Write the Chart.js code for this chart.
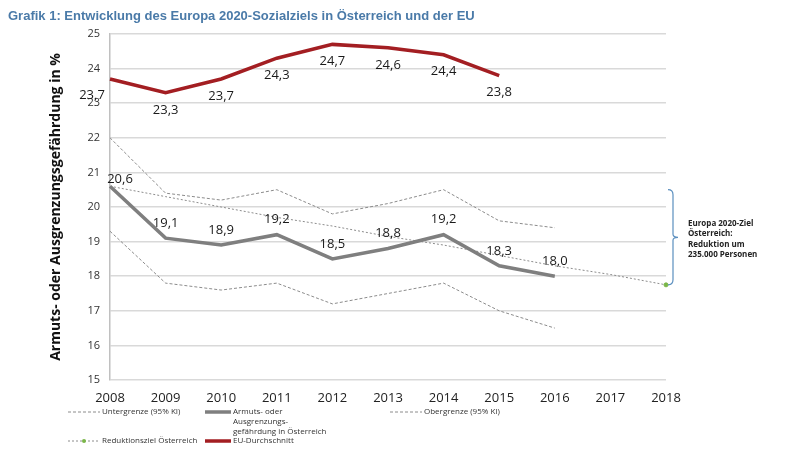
<!DOCTYPE html>
<html>
<head>
<meta charset="utf-8">
<script src="https://cdn.jsdelivr.net/npm/chart.js@4/dist/chart.umd.min.js"></script>
<style>
  html, body { margin: 0; padding: 0; background: #fff; }
  #wrap { width: 800px; height: 450px; position: relative; }
</style>
</head>
<body>
<div id="wrap"><canvas id="chart" width="800" height="450"></canvas></div>
<script>
const years = ['2008', '2009', '2010', '2011', '2012', '2013', '2014', '2015', '2016', '2017', '2018'];
const oesterreich = [20.6, 19.1, 18.9, 19.2, 18.5, 18.8, 19.2, 18.3, 18.0, null, null];
const euSchnitt = [23.7, 23.3, 23.7, 24.3, 24.7, 24.6, 24.4, 23.8, null, null, null];
const obergrenze = [22.0, 20.4, 20.2, 20.5, 19.8, 20.1, 20.5, 19.6, 19.4, null, null];
const untergrenze = [19.3, 17.8, 17.6, 17.8, 17.2, 17.5, 17.8, 17.0, 16.5, null, null];
const reduktionsziel = [20.6, 20.3, 20.0, 19.7, 19.45, 19.15, 18.9, 18.6, 18.3, 18.05, 17.75];
const klammerOben = 20.5;
const klammerUnten = 17.75;
const zielText = ['Europa 2020-Ziel', 'Österreich:', 'Reduktion um', '235.000 Personen'];

const fmt = v => v.toFixed(1).replace('.', ',');
const ctx = document.getElementById('chart').getContext('2d');

const extras = {
    id: 'extras',
    afterDatasetsDraw(chart) {
        const c = chart.ctx;
        const x = chart.scales.x;
        const y = chart.scales.y;
        c.save();

        // value labels
        c.font = '13px "Open Sans", "DejaVu Sans", sans-serif';
        c.fillStyle = '#1a1a1a';
        c.textAlign = 'center';
        c.textBaseline = 'middle';
        oesterreich.forEach((v, i) => {
            if (v === null) return;
            let px = x.getPixelForValue(i);
            let py = y.getPixelForValue(v) - 15;
            if (i === 0) { px += 10; py += 8; }
            c.fillText(fmt(v), px, py);
        });
        euSchnitt.forEach((v, i) => {
            if (v === null) return;
            let px = x.getPixelForValue(i);
            let py = y.getPixelForValue(v) + 17;
            if (i === 0) { px -= 18; py -= 1; }
            c.fillText(fmt(v), px, py);
        });

        // bracket
        const bx = x.getPixelForValue(10) + 7;
        const top = y.getPixelForValue(klammerOben);
        const bot = y.getPixelForValue(klammerUnten);
        const mid = (top + bot) / 2;
        c.strokeStyle = '#5b8fbf';
        c.lineWidth = 1.2;
        c.beginPath();
        c.moveTo(bx - 5, top);
        c.quadraticCurveTo(bx, top, bx, top + 5);
        c.lineTo(bx, mid - 3);
        c.quadraticCurveTo(bx, mid, bx + 5, mid);
        c.quadraticCurveTo(bx, mid, bx, mid + 3);
        c.lineTo(bx, bot - 5);
        c.quadraticCurveTo(bx, bot, bx - 5, bot);
        c.stroke();

        c.font = 'bold 8px "Open Sans", "DejaVu Sans", sans-serif';
        c.fillStyle = '#222';
        c.textAlign = 'left';
        zielText.forEach((t, i) => c.fillText(t, bx + 15, mid - 14 + i * 10.5));

        // title
        c.font = 'bold 13px "Liberation Sans", Arial, sans-serif';
        c.fillStyle = '#4a7aa8';
        c.textAlign = 'left';
        c.fillText('Grafik 1: Entwicklung des Europa 2020-Sozialziels in Österreich und der EU', 8, 16);

        // legend
        const items = [
            { x: 68, y: 412, ds: 2, lines: ['Untergrenze (95% KI)'] },
            { x: 205, y: 412, ds: 0, lines: ['Armuts- oder', 'Ausgrenzungs-', 'gefährdung in Österreich'] },
            { x: 390, y: 412, ds: 3, lines: ['Obergrenze (95% KI)'] },
            { x: 68, y: 441, ds: 4, lines: ['Reduktionsziel Österreich'], marker: true },
            { x: 205, y: 441, ds: 1, lines: ['EU-Durchschnitt'] }
        ];
        c.font = '8px "Open Sans", "DejaVu Sans", sans-serif';
        items.forEach(it => {
            const ds = chart.data.datasets[it.ds];
            const len = ds.borderWidth > 2 ? 26 : 32;
            c.strokeStyle = ds.borderColor;
            c.lineWidth = ds.borderWidth;
            c.setLineDash(ds.borderDash || []);
            c.beginPath();
            c.moveTo(it.x, it.y);
            c.lineTo(it.x + len, it.y);
            c.stroke();
            c.setLineDash([]);
            if (it.marker) {
                c.fillStyle = '#7ab648';
                c.beginPath();
                c.arc(it.x + 16, it.y, 2, 0, Math.PI * 2);
                c.fill();
            }
            c.fillStyle = '#333';
            it.lines.forEach((t, k) => c.fillText(t, it.x + len + 2, it.y + k * 10));
        });
        c.restore();
    }
};

const chart = new Chart(ctx, {
    type: 'line',
    data: {
        labels: years,
        datasets: [
            {
                label: 'Armuts- oder Ausgrenzungsgefährdung in Österreich',
                data: oesterreich,
                borderColor: '#7f7f7f',
                borderWidth: 3.5,
                pointRadius: 0,
                order: 1
            },
            {
                label: 'EU-Durchschnitt',
                data: euSchnitt,
                borderColor: '#a31e22',
                borderWidth: 3.5,
                pointRadius: 0,
                order: 0
            },
            {
                label: 'Untergrenze (95% KI)',
                data: untergrenze,
                borderColor: '#8c8c8c',
                borderWidth: 1,
                borderDash: [3, 2],
                pointRadius: 0,
                order: 3
            },
            {
                label: 'Obergrenze (95% KI)',
                data: obergrenze,
                borderColor: '#8c8c8c',
                borderWidth: 1,
                borderDash: [3, 2],
                pointRadius: 0,
                order: 3
            },
            {
                label: 'Reduktionsziel Österreich',
                data: reduktionsziel,
                borderColor: '#8c8c8c',
                borderWidth: 1,
                borderDash: [2, 2],
                pointRadius: c => c.dataIndex === reduktionsziel.length - 1 ? 2 : 0,
                pointBackgroundColor: '#7ab648',
                pointBorderColor: '#7ab648',
                order: 2
            }
        ]
    },
    options: {
        responsive: false,
        animation: false,
        layout: { padding: { left: 48, right: 134, top: 34, bottom: 40 } },
        plugins: {
            legend: { display: false },
            tooltip: { enabled: false }
        },
        scales: {
            x: {
                afterFit: s => { s.height = 30; },
                grid: { display: false, drawTicks: false },
                border: { display: false },
                ticks: {
                    padding: 10,
                    maxRotation: 0,
                    color: '#222',
                    font: { size: 13, family: '"Open Sans", "DejaVu Sans", sans-serif' }
                }
            },
            y: {
                min: 15,
                max: 25,
                afterFit: s => { s.width = 62; },
                grid: { color: '#d9d9d9', lineWidth: 1.5, drawTicks: false },
                border: { display: true, color: '#c0c0c0', width: 1.5 },
                ticks: {
                    stepSize: 1,
                    padding: 10,
                    color: '#333',
                    font: { size: 11, family: '"Open Sans", "DejaVu Sans", sans-serif' }
                },
                title: {
                    display: true,
                    text: 'Armuts- oder Ausgrenzungsgefährdung in %',
                    color: '#111',
                    padding: { top: 0, bottom: 4 },
                    font: { size: 14, weight: 'bold', family: '"Open Sans", "DejaVu Sans", sans-serif' }
                }
            }
        }
    },
    plugins: [extras]
});
</script>
</body>
</html>
